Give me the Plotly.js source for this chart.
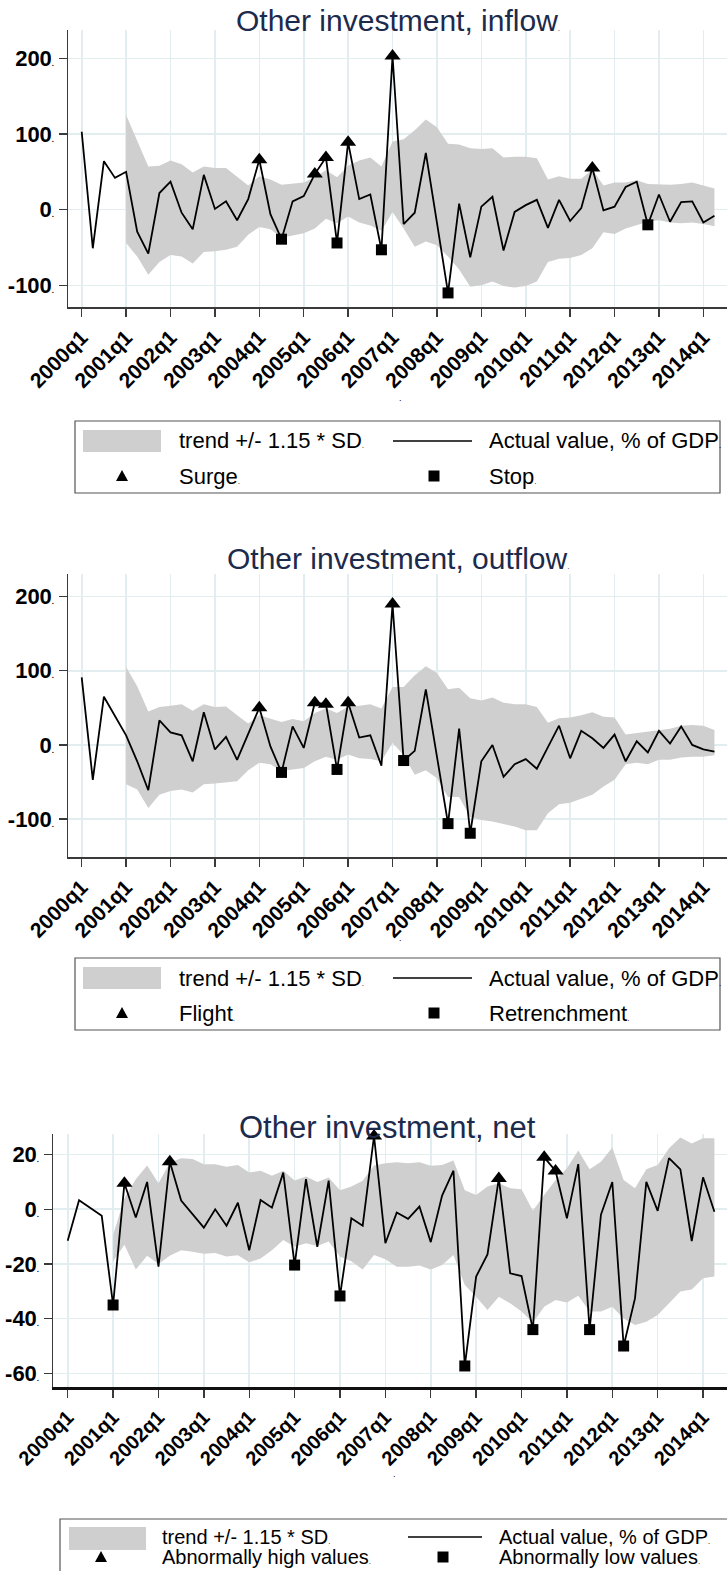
<!DOCTYPE html>
<html><head><meta charset="utf-8">
<script src="https://cdn.plot.ly/plotly-3.0.1.min.js"></script>
<style>html,body{margin:0;padding:0;background:#fff}#chart{width:727px;height:1571px}</style>
</head><body><div id="chart"></div>
<script>
// ---------- DATA ----------
const yearTicks = ['2000q1','2001q1','2002q1','2003q1','2004q1','2005q1','2006q1','2007q1','2008q1','2009q1','2010q1','2011q1','2012q1','2013q1','2014q1'];
const quarters = [];
for (let y = 2000; y <= 2014; y++) for (let q = 1; q <= 4; q++) quarters.push(y + 'q' + q);
quarters.length = 58; // 2000q1 .. 2014q2
const bandQuarters = quarters.slice(4); // band starts 2001q1

const inflowActual = [103,-51,64,42,50,-29,-58,22,37,-4,-26,46,1,11,-14,14,66,-6,-39,11,18,47,69,-44,89,14,20,-53,203,-19,-4,75,-17,-110,8,-63,4,17,-54,-3,6,13,-24,13,-15,2,55,-1,4,30,37,-20,20,-16,10,11,-17,-8];
const inflowUpper = [125,92,57,58,65,60,49,57,55,55, 44,32,44,40,33,35,36,43,52,43, 58,65,69,57,90,93,105,119,109,87, 86,81,80,81,69,70,70,68,40,44, 41,41,53,32,36,36,39,34,33,33, 34,36,32,28];
const inflowLower = [-44,-62,-86,-69,-60,-62,-71,-56,-55,-53, -49,-33,-23,-26,-37,-34,-31,-25,-12,-18, -9,-17,-21,-28,-3,-25,-49,-42,-47,-62, -79,-102,-100,-95,-101,-103,-101,-95,-69,-65, -64,-60,-51,-30,-32,-25,-20,-16,-14,-17, -18,-17,-19,-22];
const inflowSurge = ['2004q1','2005q2','2005q3','2006q1','2007q1','2011q3'];
const inflowStop = ['2004q3','2005q4','2006q4','2008q2','2012q4'];

const outflowActual = [91,-47,65,39,13,-22,-61,33,17,13,-22,44,-6,11,-20,15,50,-2,-37,25,-4,57,55,-33,57,10,13,-28,190,-21,-8,75,-15,-106,22,-119,-22,0,-43,-26,-19,-32,-3,26,-18,19,9,-4,14,-22,5,-10,19,2,25,0,-6,-9];
const outflowUpper = [105,79,45,51,53,55,46,55,51,52, 40,29,40,35,31,35,32,43,49,43, 52,53,55,49,78,78,94,106,97,75, 77,63,60,64,57,55,55,51,30,36, 37,40,44,38,37,14,16,17,20,22, 26,27,26,20];
const outflowLower = [-53,-60,-85,-67,-62,-60,-64,-53,-52,-51, -49,-34,-24,-26,-35,-33,-31,-22,-16,-20, -13,-18,-19,-22,3,-14,-40,-34,-45,-70, -70,-97,-101,-103,-106,-110,-115,-115,-92,-80, -78,-73,-67,-56,-47,-26,-24,-26,-20,-20, -17,-16,-16,-14];
const outflowFlight = ['2004q1','2005q2','2005q3','2006q1','2007q1'];
const outflowRetrench = ['2004q3','2005q4','2007q2','2008q2','2008q4'];

const netActual = [-11.5,3.3,0.5,-2.4,-35,9.5,-3,10,-21,17.4,3.2,-1.7,-6.7,0,-6,2.4,-15,3.4,0.6,13.4,-20.4,11,-13.7,10.5,-31.7,-3.3,-6,26.8,-12.4,-1.2,-3.5,1,-12,5,14.1,-57.3,-24.6,-16.5,11.3,-23.4,-24.4,-44,19,14,-3.3,16.5,-44,-2,10,-50,-32.6,10,-0.6,18.7,14.6,-11.6,11.7,-0.9];
const netUpper = [-9.4,4,11,16,9.5,17,18.7,18.4,16.5,16.5, 15.6,16.2,13.5,14.1,12.3,14.1,10.5,12,10,11.6, 7,8.3,10.4,16,16.8,17.2,16.8,17.2,15.9,16.2, 17.8,7,5.2,8.3,9.5,7.7,7.3,-0.5,5.2,10.7, 15,21.5,14.6,17.4,22.6,10.7,7.7,14.6,16.2,22.3, 26.3,24.1,26,26];
const netLower = [-19,-13,-22,-17,-20,-17,-15,-15.5,-16.3,-16, -17.3,-16.8,-19.4,-18,-15,-11.2,-13.7,-12.4,-13.4,-11.8, -17.3,-19,-22,-16.7,-18.3,-21,-21,-20.6,-22,-20.4, -16.7,-27.7,-32,-36.8,-32,-34.4,-37.4,-41.5,-35.6,-33.2, -34.1,-31.6,-37.4,-37.4,-35.6,-39.9,-42.3,-41.1,-38.7,-34.4, -30.1,-29.3,-25.2,-24.6];
const netHigh = ['2001q2','2002q2','2006q4','2009q3','2010q3','2010q4'];
const netLow = ['2001q1','2005q1','2006q1','2008q4','2010q2','2011q3','2012q2'];

const yTicksFlow = [-100, 0, 100, 200];
const yTicksNet = [-60, -40, -20, 0, 20];

// ---------- STYLE ----------
const FONT = 'Liberation Sans, Arial, Helvetica, sans-serif';
const BAND = '#cfcfcf';
const GRID = '#e2edf0';
const AXIS = '#3a3a3a';
const DOT = '<span style="font-size:8px">.</span>';
const W = 727, H = 1571;
const px = x => x / W;
const py = y => 1 - y / H;

function lookup(actual, labels) { return labels.map(l => actual[quarters.indexOf(l)]); }

function panelTraces(actual, upper, lower, hi, lo, xa, ya) {
  return [
    {x: bandQuarters, y: lower, type: 'scatter', mode: 'lines', line: {width: 0, color: BAND}, xaxis: xa, yaxis: ya, showlegend: false, hoverinfo: 'skip'},
    {x: bandQuarters, y: upper, type: 'scatter', mode: 'lines', fill: 'tonexty', fillcolor: BAND, line: {width: 0, color: BAND}, xaxis: xa, yaxis: ya, showlegend: false, hoverinfo: 'skip'},
    {x: quarters, y: actual, type: 'scatter', mode: 'lines', line: {color: '#000', width: 1.8}, xaxis: xa, yaxis: ya, showlegend: false},
    {x: hi, y: lookup(actual, hi), type: 'scatter', mode: 'markers', marker: {symbol: 'triangle-up', size: 14, color: '#000'}, cliponaxis: false, xaxis: xa, yaxis: ya, showlegend: false},
    {x: lo, y: lookup(actual, lo), type: 'scatter', mode: 'markers', marker: {symbol: 'square', size: 11, color: '#000'}, cliponaxis: false, xaxis: xa, yaxis: ya, showlegend: false}
  ];
}

const data = [].concat(
  panelTraces(inflowActual, inflowUpper, inflowLower, inflowSurge, inflowStop, 'x', 'y'),
  panelTraces(outflowActual, outflowUpper, outflowLower, outflowFlight, outflowRetrench, 'x2', 'y2'),
  panelTraces(netActual, netUpper, netLower, netHigh, netLow, 'x3', 'y3')
);

function xAxis(domainLeft, range, anchor, fsize, lw, lc) {
  return {
    domain: [px(domainLeft), 1], range: range, anchor: anchor,
    type: 'category', categoryorder: 'array', categoryarray: quarters,
    tickmode: 'array', tickvals: yearTicks, ticktext: yearTicks,
    tickangle: -45, tickfont: {family: FONT, size: fsize, color: '#000', weight: 'bold'},
    ticks: 'outside', ticklen: 8, tickcolor: AXIS, tickwidth: 1.4,
    showgrid: true, gridcolor: GRID, gridwidth: 1.6,
    showline: true, linecolor: lc, linewidth: lw, zeroline: false, fixedrange: true
  };
}
function yAxis(top, bottom, range, ticks, anchor) {
  return {
    domain: [py(bottom), py(top)], range: range, anchor: anchor,
    tickmode: 'array', tickvals: ticks, ticktext: ticks.map(t => t + DOT),
    tickfont: {family: FONT, size: 22, color: '#000', weight: 'bold'},
    ticks: 'outside', ticklen: 8, tickcolor: AXIS, tickwidth: 1.4,
    showgrid: true, gridcolor: GRID, gridwidth: 1.6,
    showline: true, linecolor: AXIS, linewidth: 1.5, zeroline: false, fixedrange: true
  };
}

const shapes = [];
const annotations = [];
function txt(text, x, y, size, opts) {
  annotations.push(Object.assign({text: text, x: px(x), y: py(y), xref: 'paper', yref: 'paper',
    showarrow: false, xanchor: 'left', yanchor: 'middle', font: {family: FONT, size: size, color: '#000'}}, opts || {}));
}
function legendBox(box, swatch, lineX, row1, row2, triX, sqX, textX1, textX2, labels, fs) {
  shapes.push({type: 'rect', xref: 'paper', yref: 'paper', x0: px(box[0]), x1: px(box[1]), y0: py(box[2]), y1: py(box[3]), line: {color: '#555', width: 1.2}, fillcolor: 'rgba(0,0,0,0)'});
  shapes.push({type: 'rect', xref: 'paper', yref: 'paper', x0: px(swatch[0]), x1: px(swatch[1]), y0: py(swatch[2]), y1: py(swatch[3]), line: {width: 0}, fillcolor: BAND});
  shapes.push({type: 'line', xref: 'paper', yref: 'paper', x0: px(lineX[0]), x1: px(lineX[1]), y0: py(row1), y1: py(row1), line: {color: '#000', width: 1.6}});
  shapes.push({type: 'path', xref: 'paper', yref: 'paper',
    path: 'M' + px(triX - 6) + ',' + py(row2 + 5) + ' L' + px(triX + 6) + ',' + py(row2 + 5) + ' L' + px(triX) + ',' + py(row2 - 6) + ' Z',
    fillcolor: '#000', line: {width: 0}});
  shapes.push({type: 'rect', xref: 'paper', yref: 'paper', x0: px(sqX - 5.5), x1: px(sqX + 5.5), y0: py(row2 + 5.5), y1: py(row2 - 5.5), fillcolor: '#000', line: {width: 0}});
  txt(labels[0], textX1, row1, fs);
  txt(labels[1], textX2, row1, fs);
  txt(labels[2], textX1, row2, fs);
  txt(labels[3], textX2, row2, fs);
}

// titles
const TCOL = '#1c2a4c';
txt('Other investment, inflow' + DOT, 398, 20, 30, {xanchor: 'center', font: {family: FONT, size: 30, color: TCOL}});
txt('Other investment, outflow' + DOT, 398, 558, 30, {xanchor: 'center', font: {family: FONT, size: 30, color: TCOL}});
txt('Other investment, net', 387, 1127, 31, {xanchor: 'center', font: {family: FONT, size: 31, color: TCOL}});
// axis-title dots
txt('.', 400, 398, 9, {xanchor: 'center'});
txt('.', 400, 938, 9, {xanchor: 'center'});
txt('.', 395, 1474, 9, {xanchor: 'center'});

legendBox([75, 720, 421, 493], [83, 161, 430, 452], [393, 472], 441, 476, 122, 434, 177, 487,
  ['trend +/- 1.15 * SD' + DOT, 'Actual value, % of GDP' + DOT, 'Surge' + DOT, 'Stop' + DOT], 22);
legendBox([75, 720, 958, 1030], [83, 161, 967, 989], [393, 472], 978, 1013, 122, 434, 177, 487,
  ['trend +/- 1.15 * SD' + DOT, 'Actual value, % of GDP' + DOT, 'Flight' + DOT, 'Retrenchment' + DOT], 22);
legendBox([60, 740, 1519, 1600], [69, 146, 1527, 1550], [408, 482], 1537, 1557, 101, 443, 160, 497,
  ['trend +/- 1.15 * SD' + DOT, 'Actual value, % of GDP' + DOT, 'Abnormally high values' + DOT, 'Abnormally low values' + DOT], 20);

const layout = {
  width: W, height: H, autosize: false,
  margin: {l: 0, r: 0, t: 0, b: 0, pad: 0},
  paper_bgcolor: '#fff', plot_bgcolor: '#fff',
  showlegend: false, font: {family: FONT},
  xaxis: xAxis(68, [-1.234, 58.13], 'y', 21, 1.5, AXIS),
  yaxis: yAxis(30.3, 307.3, [-129, 237], yTicksFlow, 'x'),
  xaxis2: xAxis(68, [-1.234, 58.13], 'y2', 21, 1.5, AXIS),
  yaxis2: yAxis(574.3, 857, [-151, 230], yTicksFlow, 'x2'),
  xaxis3: xAxis(53, [-1.296, 58.11], 'y3', 20, 2.4, '#111'),
  yaxis3: yAxis(1134.1, 1387.3, [-65.1, 27.5], yTicksNet, 'x3'),
  shapes: shapes, annotations: annotations
};

Plotly.newPlot('chart', data, layout, {staticPlot: true, displayModeBar: false});
</script></body></html>
